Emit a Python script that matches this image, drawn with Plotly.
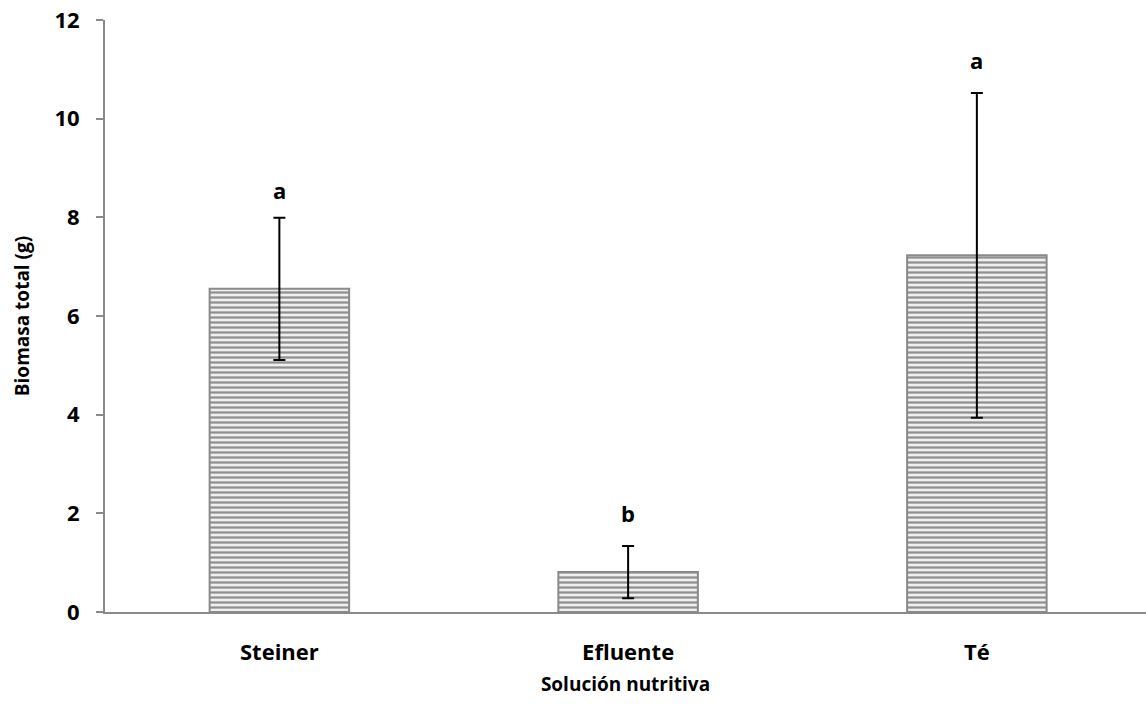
import plotly.graph_objects as go

# Biomasa total por solución nutritiva (media ± desviación)
categorias = ["Steiner", "Efluente", "Té"]
biomasa = [6.55, 0.81, 7.23]
desviacion = [1.44, 0.53, 3.29]
letras = ["a", "b", "a"]
letras_y = [8.55, 2.0, 11.18]
y_ticks = [0, 2, 4, 6, 8, 10, 12]

FONT = "Open Sans"
AXIS_GRAY = "#8a8a8a"

fig = go.Figure()
fig.add_trace(go.Bar(
    x=list(range(len(categorias))),
    y=biomasa,
    width=0.40,
    marker=dict(
        color="#efefef",
        line=dict(color="#8a8a8a", width=2),
        pattern=dict(shape="-", size=5, solidity=0.45,
                     fgcolor="#8f8f8f", bgcolor="#efefef", fillmode="replace"),
    ),
    error_y=dict(type="data", array=desviacion, visible=True,
                 color="black", thickness=2, width=6),
    showlegend=False,
))

for i, (txt, yy) in enumerate(zip(letras, letras_y)):
    fig.add_annotation(x=i, y=yy, text=f"<b>{txt}</b>", showarrow=False,
                       font=dict(family=FONT, size=22, color="black"))

fig.update_layout(
    width=1146, height=719,
    margin=dict(l=105, r=0, t=20, b=107),
    plot_bgcolor="white", paper_bgcolor="white",
    font=dict(family=FONT, size=19, color="black"),
)
fig.update_xaxes(
    range=[-0.5, 2.485],
    tickvals=list(range(len(categorias))),
    ticktext=[f"<b>{c}</b>" for c in categorias],
    showline=True, linecolor=AXIS_GRAY, linewidth=2,
    ticks="", showgrid=False, zeroline=False,
    tickfont=dict(family=FONT, size=22),
    ticklabelstandoff=20,
    title=dict(text="<b>Solución nutritiva</b>", standoff=12,
               font=dict(family=FONT, size=19)),
)
fig.update_yaxes(
    range=[0, 12], tickvals=y_ticks,
    ticktext=[f"<b>{v}</b>" for v in y_ticks],
    showline=True, linecolor=AXIS_GRAY, linewidth=2,
    ticks="outside", ticklen=7, tickcolor=AXIS_GRAY, tickwidth=2,
    showgrid=False, zeroline=False,
    tickfont=dict(family=FONT, size=22),
    ticklabelstandoff=12,
    title=dict(text="<b>Biomasa total (g)</b>", standoff=20,
               font=dict(family=FONT, size=19)),
)

fig.write_html("out.html")
